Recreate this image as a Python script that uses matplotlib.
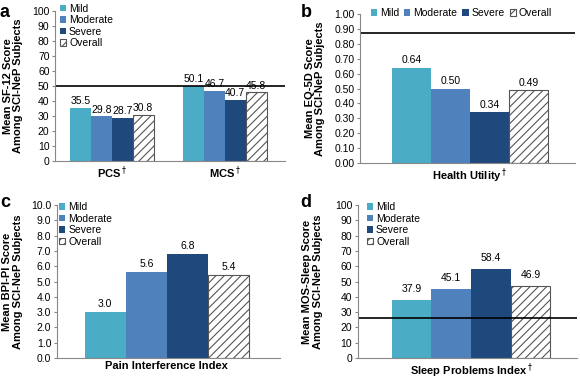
import matplotlib.pyplot as plt
import numpy as np

# Data
groups = ['Mild', 'Moderate', 'Severe', 'Overall']
colors = ['#4BACC6', '#4F81BD', '#1F497D', 'white']

sf12_cats = ['PCS$^\\dagger$', 'MCS$^\\dagger$']
sf12_vals = [[35.5, 50.1], [29.8, 46.7], [28.7, 40.7], [30.8, 45.8]]
sf12_ref = 50

eq5d_vals = [0.64, 0.50, 0.34, 0.49]
eq5d_ref = 0.87

bpi_vals = [3.0, 5.6, 6.8, 5.4]

mos_vals = [37.9, 45.1, 58.4, 46.9]
mos_ref = 26

plt.rcParams['font.family'] = 'Liberation Sans'
plt.rcParams['font.size'] = 7.5
plt.rcParams['hatch.linewidth'] = 0.8

fig = plt.figure(figsize=(5.8, 3.8), dpi=100)


def style(ax, ylabel, lx):
    ax.spines['top'].set_visible(False)
    ax.spines['right'].set_visible(False)
    ax.spines['left'].set_color('#888888')
    ax.spines['bottom'].set_color('#888888')
    ax.tick_params(axis='x', length=0, pad=2.5)
    ax.tick_params(axis='y', length=2, color='#888888', pad=2, labelsize=7.5)
    ax.set_ylabel(ylabel, fontweight='bold', fontsize=8, linespacing=1.05)
    ax.yaxis.set_label_coords(lx, 0.5)


def draw_bar(ax, x, h, i, w):
    if groups[i] == 'Overall':
        return ax.bar(x, h, w, color='white', edgecolor='#555555', hatch='////', linewidth=0.8, label=groups[i])
    return ax.bar(x, h, w, color=colors[i], label=groups[i])


def legend(ax, ncol=1, anchor=(0.02, 1.05), colsp=0.8):
    ax.legend(loc='upper left', bbox_to_anchor=anchor, ncol=ncol, frameon=False, fontsize=7.5,
              handlelength=0.6, handleheight=0.6, handletextpad=0.3, labelspacing=0.15,
              columnspacing=colsp, borderaxespad=0, borderpad=0)


# Panel a
ax = fig.add_axes([0.095, 0.576, 0.396, 0.395])
w = 0.185
centers = np.arange(len(sf12_cats))
for i in range(4):
    vals = [sf12_vals[i][j] for j in range(len(sf12_cats))]
    xs = centers + (i - 1.5) * w
    draw_bar(ax, xs, vals, i, w)
    for x, v in zip(xs, vals):
        ax.text(x, v + 1.2, f'{v:.1f}', ha='center', va='bottom', fontsize=7.5)
ax.axhline(sf12_ref, color='black', lw=1.2)
ax.set_xlim(-0.5, 1.53)
ax.set_ylim(0, 100)
ax.set_yticks(np.arange(0, 101, 10))
ax.set_xticks(centers)
ax.set_xticklabels(sf12_cats, fontweight='bold', fontsize=8)
style(ax, 'Mean SF-12 Score\nAmong SCI-NeP Subjects', -0.139)
legend(ax)
fig.text(0.0, 0.99, 'a', fontsize=13, fontweight='bold', va='top')


def single(rect, vals, ylim, step, dec, ydec, ylabel, xlabel, xlim, lx, ref=None, off=0.0):
    ax = fig.add_axes(rect)
    for i, v in enumerate(vals):
        x = i - 1.5
        draw_bar(ax, x, v, i, 1.0)
        ax.text(x, v + off, f'{v:.{dec}f}', ha='center', va='bottom', fontsize=7.5)
    if ref is not None:
        ax.axhline(ref, color='black', lw=1.2)
    ax.set_xlim(*xlim)
    ax.set_ylim(0, ylim)
    ticks = np.arange(0, ylim + step / 2, step)
    ax.set_yticks(ticks)
    ax.set_yticklabels([f'{t:.{ydec}f}' for t in ticks])
    ax.set_xticks([0])
    ax.set_xticklabels([xlabel], fontweight='bold', fontsize=8)
    style(ax, ylabel, lx)
    return ax


# Panel b
ax = single([0.621, 0.571, 0.370, 0.392], eq5d_vals, 1.0, 0.1, 2, 2,
            'Mean EQ-5D Score\nAmong SCI-NeP Subjects', 'Health Utility$^\\dagger$',
            (-2.82, 2.69), -0.163, ref=eq5d_ref, off=0.015)
legend(ax, ncol=4, anchor=(0.05, 1.04), colsp=0.45)
fig.text(0.518, 0.99, 'b', fontsize=13, fontweight='bold', va='top')

# Panel c
ax = single([0.098, 0.058, 0.385, 0.402], bpi_vals, 10.0, 1.0, 1, 1,
            'Mean BPI-PI Score\nAmong SCI-NeP Subjects', 'Pain Interference Index',
            (-2.68, 2.76), -0.152, off=0.2)
legend(ax, anchor=(0.01, 1.02))
fig.text(0.0, 0.49, 'c', fontsize=13, fontweight='bold', va='top')

# Panel d
ax = single([0.617, 0.058, 0.378, 0.402], mos_vals, 100, 10, 1, 0,
            'Mean MOS-Sleep Score\nAmong SCI-NeP Subjects', 'Sleep Problems Index$^\\dagger$',
            (-2.86, 2.68), -0.16, ref=mos_ref, off=4)
legend(ax, anchor=(0.04, 1.02))
fig.text(0.518, 0.49, 'd', fontsize=13, fontweight='bold', va='top')

fig.savefig('out.png', dpi=100)
